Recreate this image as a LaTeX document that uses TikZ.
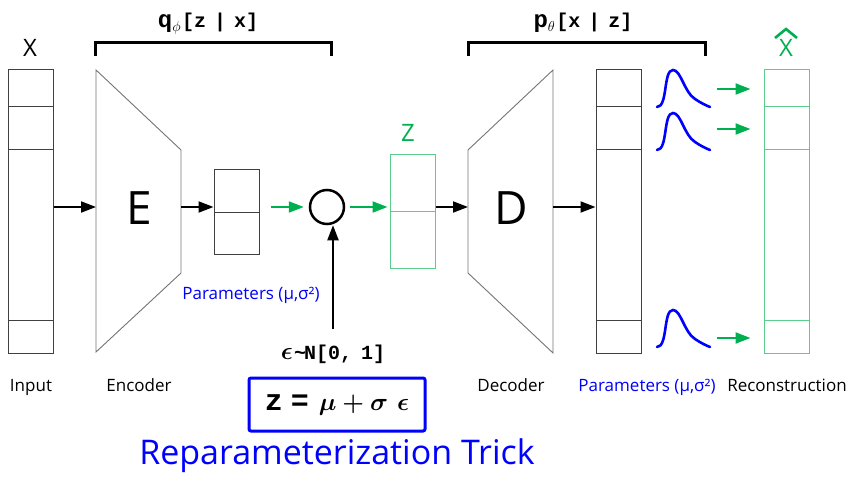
\documentclass[tikz,border=0pt]{standalone}
\usepackage{fontspec}
\setmainfont{Open Sans}
\newfontfamily\monofont{Liberation Mono}
\usetikzlibrary{arrows.meta}

\definecolor{arrgreen}{RGB}{0,176,80}
\definecolor{boxgreen}{RGB}{90,205,140}

\tikzset{
  cell/.style={draw=black!75, line width=1pt, rectangle, minimum width=45pt, inner sep=0pt},
  cellg/.style={cell, draw=boxgreen},
  net/.style={draw=black!55, line width=0.9pt},
  arr/.style={line width=2pt, -{Triangle[length=15pt,width=11pt]}},
  garr/.style={arr, arrgreen},
  brk/.style={line width=3pt},
  gauss/.style={blue, line width=2.6pt, line cap=round},
  lbl/.style={font=\fontsize{17}{20}\selectfont, anchor=base},
  big/.style={font=\fontsize{46}{46}\selectfont},
  vec/.style={font=\fontsize{24}{24}\selectfont, anchor=base},
  dist/.style={font=\fontsize{20}{24}\selectfont\monofont\bfseries, anchor=base},
}

\begin{document}
\begin{tikzpicture}[x=1pt, y=-1pt]
  \useasboundingbox (0,0) rectangle (857,492);

  % input, latent and output vectors
  \node[cell, minimum height=283pt] (inp) at (30.5,211.5) {};
  \node[cell, minimum height=84pt] (mu) at (236.5,212) {};
  \node[cellg, minimum height=113pt] (zb) at (412.5,211.5) {};
  \node[cell, minimum height=283pt] (par) at (618.5,211.5) {};
  \node[cellg, minimum height=283pt] (rec) at (786.5,211.5) {};
  \foreach \y in {107,150,320} {
    \draw[black!75, line width=1pt] (inp.west |- 0,\y) -- (inp.east |- 0,\y);
    \draw[black!75, line width=1pt] (par.west |- 0,\y) -- (par.east |- 0,\y);
    \draw[boxgreen, line width=1pt] (rec.west |- 0,\y) -- (rec.east |- 0,\y);
  }
  \draw[black!75, line width=1pt] (mu.west) -- (mu.east);
  \draw[boxgreen, line width=1pt] (zb.west) -- (zb.east);

  % encoder and decoder
  \draw[net] (96,70) -- (181,150) -- (181,273) -- (96,352) -- cycle;
  \draw[net] (468,150) -- (553,70) -- (553,353) -- (468,273) -- cycle;
  \node[big] (E) at (139,208) {E};
  \node[big] (D) at (511,208) {D};
  \coordinate (encin) at (96,207);
  \coordinate (encout) at (181,207);
  \coordinate (decin) at (468,207);
  \coordinate (decout) at (553,207);

  % sampling node
  \node[circle, draw, line width=2.5pt, minimum size=34pt, inner sep=0pt] (circ) at (327,207) {};
  \node[dist] (eps) at (333,359)
    {{\fontsize{26}{26}\selectfont\boldmath$\epsilon$}\kern1pt\textasciitilde\kern-2pt N[0,\kern-3pt~1]};

  % connections
  \draw[arr] (inp.east |- encin) -- (encin);
  \draw[arr] (encout) -- (mu.west |- encout);
  \draw[garr, shorten <=11pt, shorten >=5pt] (mu.east |- circ) -- (circ.west);
  \draw[garr, shorten <=5pt, shorten >=2pt] (circ.east) -- (zb.west |- circ);
  \draw[arr] (zb.east |- decin) -- (decin);
  \draw[arr] (decout) -- (par.west |- decout);
  \draw[arr, shorten <=12pt] (eps.north) -- (eps.north |- circ.south);

  % output distributions
  \foreach \b in {107,150,347}
    \draw[gauss] (657,\b) .. controls (668,\b) and (663,{\b-37}) .. (673,{\b-37})
      .. controls (681,{\b-37}) and (684,{\b-15}) .. (695,{\b-8})
      .. controls (701,{\b-4}) and (705,{\b-2}) .. (710,\b);
  \foreach \y [count=\i] in {89,129,338} {
    \coordinate (t\i) at (717,\y);
    \draw[garr, shorten >=13pt] (t\i) -- (rec.west |- t\i);
  }

  % vector names
  \node[vec] (xin) at (30,57) {X};
  \node[vec, arrgreen] (zname) at (408,142) {Z};
  \node[vec, arrgreen] (xout) at (786,57) {X};
  \draw[arrgreen, line width=2.6pt] (775,38) -- (786,29) -- (797,38);

  % brackets
  \draw[brk] (95,56) -- (95,43) -- (331,43) -- (331,56);
  \draw[brk] (468,56) -- (468,43) -- (705,43) -- (705,56);
  \node[dist] (qlbl) at (208,28)
    {{\fontsize{24}{24}\selectfont q}$_{\phi}$\kern1pt[z\kern-4pt~|\kern-4pt~x]};
  \node[dist] (plbl) at (583,28)
    {{\fontsize{24}{24}\selectfont p}$_{\theta}$\kern1pt[x\kern-4pt~|\kern-4pt~z]};

  % captions
  \node[lbl] (cin) at (31,391) {Input};
  \node[lbl] (cenc) at (139,391) {Encoder};
  \node[lbl] (cdec) at (511,391) {Decoder};
  \node[lbl, blue] (cpar) at (647,391) {Parameters (μ,σ²)};
  \node[lbl] (crec) at (787,391) {Reconstruction};
  \node[lbl, blue] (cmu) at (251,299) {Parameters (μ,σ²)};

  % reparameterization
  \node[draw=blue, line width=3pt, rounded corners=2pt, minimum width=176pt, minimum height=53pt,
    inner sep=0pt, font=\fontsize{30}{32}\selectfont\boldmath] (rb) at (337,404.5)
    {{\monofont\bfseries z}\kern8pt{\monofont\bfseries =}\kern10pt$\mu$\kern6pt$+$\kern6pt$\sigma$\kern9pt$\epsilon$};
  \node[font=\fontsize{34}{38}\selectfont, blue, anchor=base] (trick) at (337,464) {Reparameterization Trick};
\end{tikzpicture}
\end{document}
